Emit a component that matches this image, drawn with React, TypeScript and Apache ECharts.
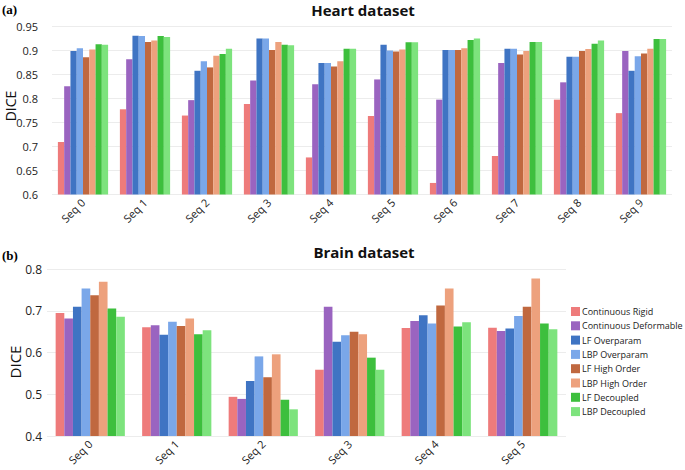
import React, { useEffect, useRef } from "react";
import * as echarts from "echarts";

const heartCategories = ["Seq 0", "Seq 1", "Seq 2", "Seq 3", "Seq 4", "Seq 5", "Seq 6", "Seq 7", "Seq 8", "Seq 9"];
const brainCategories = ["Seq 0", "Seq 1", "Seq 2", "Seq 3", "Seq 4", "Seq 5"];

const seriesNames = [
  "Continuous Rigid",
  "Continuous Deformable",
  "LF Overparam",
  "LBP Overparam",
  "LF High Order",
  "LBP High Order",
  "LF Decoupled",
  "LBP Decoupled",
];
const seriesColors = ["#ee7b7b", "#9a64c0", "#3f74c3", "#7aa7e9", "#c0683f", "#eda17d", "#3dbf3d", "#7de37d"];

const heartContinuousRigid = [0.709, 0.777, 0.764, 0.788, 0.677, 0.763, 0.624, 0.68, 0.797, 0.769];
const heartContinuousDeformable = [0.825, 0.881, 0.796, 0.837, 0.829, 0.839, 0.797, 0.873, 0.833, 0.898];
const heartLFOverparam = [0.898, 0.93, 0.857, 0.924, 0.873, 0.911, 0.9, 0.903, 0.886, 0.857];
const heartLBPOverparam = [0.904, 0.929, 0.877, 0.924, 0.873, 0.899, 0.9, 0.903, 0.886, 0.887];
const heartLFHighOrder = [0.885, 0.917, 0.864, 0.9, 0.866, 0.897, 0.9, 0.891, 0.898, 0.893];
const heartLBPHighOrder = [0.901, 0.92, 0.888, 0.917, 0.877, 0.901, 0.904, 0.898, 0.902, 0.903];
const heartLFDecoupled = [0.912, 0.929, 0.892, 0.911, 0.903, 0.916, 0.921, 0.917, 0.913, 0.923];
const heartLBPDecoupled = [0.911, 0.927, 0.903, 0.91, 0.903, 0.916, 0.924, 0.917, 0.92, 0.923];

const brainContinuousRigid = [0.695, 0.661, 0.494, 0.559, 0.659, 0.66];
const brainContinuousDeformable = [0.682, 0.666, 0.489, 0.71, 0.676, 0.652];
const brainLFOverparam = [0.71, 0.643, 0.532, 0.626, 0.69, 0.658];
const brainLBPOverparam = [0.754, 0.674, 0.591, 0.642, 0.67, 0.688];
const brainLFHighOrder = [0.738, 0.664, 0.541, 0.65, 0.713, 0.71];
const brainLBPHighOrder = [0.77, 0.682, 0.596, 0.644, 0.754, 0.778];
const brainLFDecoupled = [0.706, 0.644, 0.487, 0.588, 0.663, 0.67];
const brainLBPDecoupled = [0.686, 0.654, 0.464, 0.559, 0.673, 0.656];

const heartData = [
  heartContinuousRigid,
  heartContinuousDeformable,
  heartLFOverparam,
  heartLBPOverparam,
  heartLFHighOrder,
  heartLBPHighOrder,
  heartLFDecoupled,
  heartLBPDecoupled,
];
const brainData = [
  brainContinuousRigid,
  brainContinuousDeformable,
  brainLFOverparam,
  brainLBPOverparam,
  brainLFHighOrder,
  brainLBPHighOrder,
  brainLFDecoupled,
  brainLBPDecoupled,
];

const FONT = "Open Sans";

export default function App() {
  const ref = useRef<HTMLDivElement>(null);

  useEffect(() => {
    document.body.style.margin = "0";
    if (!ref.current) return;
    const chart = echarts.init(ref.current, null, { renderer: "svg" });

    const series: any[] = [];
    heartData.forEach((d, i) => {
      series.push({
        type: "bar",
        name: seriesNames[i],
        xAxisIndex: 0,
        yAxisIndex: 0,
        data: d,
        barGap: "0%",
        barCategoryGap: "19%",
        itemStyle: { color: seriesColors[i] },
      });
    });
    brainData.forEach((d, i) => {
      series.push({
        type: "bar",
        name: seriesNames[i],
        xAxisIndex: 1,
        yAxisIndex: 1,
        data: d,
        barGap: "0%",
        barCategoryGap: "20%",
        itemStyle: { color: seriesColors[i] },
      });
    });

    const xAxisCommon = {
      type: "category",
      axisLine: { show: false },
      axisTick: { show: false },
      axisLabel: { rotate: 45, fontSize: 11, color: "#222", fontFamily: FONT, margin: 6 },
    };
    const yAxisCommon = {
      type: "value",
      axisLine: { show: false },
      axisTick: { show: false },
      splitLine: { show: true, lineStyle: { color: "#ececec", width: 1 } },
    };

    chart.setOption({
      animation: false,
      textStyle: { fontFamily: FONT },
      grid: [
        { left: 52, top: 26, width: 620, height: 168.5 },
        { left: 47, top: 269.3, width: 519, height: 166.7 },
      ],
      xAxis: [
        { ...xAxisCommon, gridIndex: 0, data: heartCategories },
        { ...xAxisCommon, gridIndex: 1, data: brainCategories },
      ],
      yAxis: [
        {
          ...yAxisCommon,
          gridIndex: 0,
          min: 0.6,
          max: 0.95,
          interval: 0.05,
          axisLabel: { fontSize: 11, color: "#222", fontFamily: FONT, margin: 14 },
        },
        {
          ...yAxisCommon,
          gridIndex: 1,
          min: 0.4,
          max: 0.8,
          interval: 0.1,
          axisLabel: { fontSize: 12, color: "#222", fontFamily: FONT, margin: 5 },
        },
      ],
      legend: {
        data: seriesNames,
        orient: "vertical",
        left: 571,
        top: 306,
        padding: 0,
        itemWidth: 9,
        itemHeight: 9,
        itemGap: 3.3,
        icon: "rect",
        textStyle: { fontSize: 9, lineHeight: 11, color: "#222", fontFamily: FONT, padding: [0, 0, 0, -3] },
      },
      graphic: [
        {
          type: "text",
          left: 2,
          top: 3,
          style: { text: "(a)", font: "bold 13px 'Liberation Serif'", fill: "#000" },
        },
        {
          type: "text",
          left: 2,
          top: 249,
          style: { text: "(b)", font: "bold 13px 'Liberation Serif'", fill: "#000" },
        },
        {
          type: "text",
          x: 363,
          y: 10,
          style: {
            text: "Heart dataset",
            font: `bold 15px '${FONT}'`,
            fill: "#111",
            align: "center",
            verticalAlign: "middle",
          },
        },
        {
          type: "text",
          x: 364,
          y: 252,
          style: {
            text: "Brain dataset",
            font: `bold 15px '${FONT}'`,
            fill: "#111",
            align: "center",
            verticalAlign: "middle",
          },
        },
        {
          type: "text",
          x: 10,
          y: 106,
          rotation: Math.PI / 2,
          style: {
            text: "DICE",
            font: `14px '${FONT}'`,
            fill: "#111",
            align: "center",
            verticalAlign: "middle",
          },
        },
        {
          type: "text",
          x: 15,
          y: 362,
          rotation: Math.PI / 2,
          style: {
            text: "DICE",
            font: `15px '${FONT}'`,
            fill: "#111",
            align: "center",
            verticalAlign: "middle",
          },
        },
      ],
      series,
    });

    return () => {
      chart.dispose();
    };
  }, []);

  return <div ref={ref} style={{ width: 685, height: 470 }} />;
}
